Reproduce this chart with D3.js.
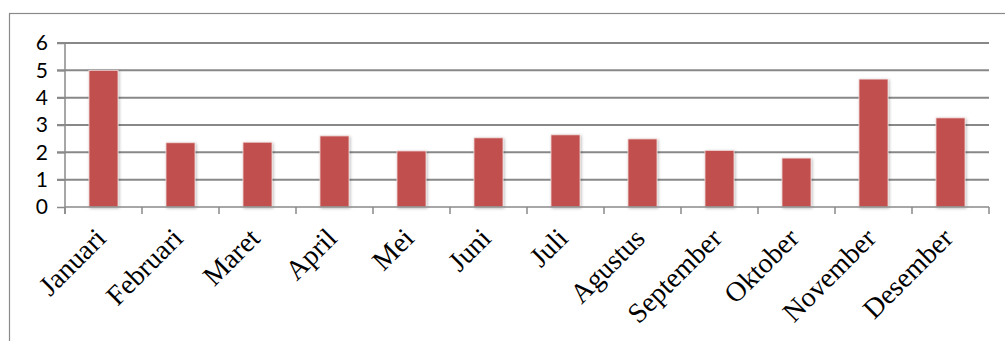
<!DOCTYPE html>
<html>
<head>
<meta charset="utf-8">
<script src="https://cdn.jsdelivr.net/npm/d3@7"></script>
<style>
  html, body { margin: 0; padding: 0; background: #fff; }
  svg { display: block; }
</style>
</head>
<body>
<svg id="chart" width="1005" height="341"></svg>
<script>
// Monthly values
const months = ["Januari", "Februari", "Maret", "April", "Mei", "Juni",
                "Juli", "Agustus", "September", "Oktober", "November", "Desember"];
const values = [5.0, 2.35, 2.37, 2.6, 2.05, 2.53, 2.64, 2.49, 2.07, 1.79, 4.68, 3.26];
const yTicks = [0, 1, 2, 3, 4, 5, 6];

const svg = d3.select("#chart");
const margin = { left: 65, right: 16, top: 43, bottom: 134 };
const W = 1005, H = 341;

// Outer chart frame (right and bottom edges run off the page)
svg.append("rect")
  .attr("x", 9.5).attr("y", 13.5)
  .attr("width", 1010).attr("height", 400)
  .attr("fill", "none").attr("stroke", "#8a8a8a").attr("stroke-width", 1.2);

const x = d3.scaleBand()
  .domain(months)
  .range([margin.left, W - margin.right])
  .paddingInner(0.623)
  .paddingOuter(0.3115);

const y = d3.scaleLinear()
  .domain([0, 6])
  .range([H - margin.bottom, margin.top]);

// Soft shadow under the bars
const defs = svg.append("defs");
const f = defs.append("filter").attr("id", "barShadow")
  .attr("x", "-30%").attr("y", "-10%").attr("width", "160%").attr("height", "120%");
f.append("feDropShadow")
  .attr("dx", 1).attr("dy", 1).attr("stdDeviation", 1.8)
  .attr("flood-color", "#000").attr("flood-opacity", 0.28);

// Horizontal gridlines
svg.append("g")
  .selectAll("line")
  .data(yTicks.filter(d => d > 0))
  .join("line")
  .attr("x1", margin.left - 8).attr("x2", W - margin.right)
  .attr("y1", d => y(d)).attr("y2", d => y(d))
  .attr("stroke", "#888").attr("stroke-width", 2);

// Y axis
const yAxis = svg.append("g")
  .attr("transform", `translate(${margin.left},0)`)
  .call(d3.axisLeft(y).tickValues(yTicks).tickSize(8).tickPadding(9).tickFormat(d3.format("d")));
yAxis.select(".domain")
  .attr("d", `M0,${y(6)}V${y(0) + 7}`)
  .attr("stroke", "#8a8a8a").attr("stroke-width", 1.5);
yAxis.selectAll(".tick line").attr("stroke", "#8a8a8a").attr("stroke-width", 1.5);
yAxis.selectAll(".tick text")
  .attr("fill", "#000")
  .style("font-family", "Lato, 'Open Sans', sans-serif")
  .style("font-size", "21px");

// Bars
svg.append("g")
  .selectAll("rect")
  .data(values)
  .join("rect")
  .attr("x", (d, i) => x(months[i]))
  .attr("y", d => y(d))
  .attr("width", x.bandwidth())
  .attr("height", d => y(0) - y(d))
  .attr("fill", "#c0504d")
  .attr("stroke", "#f3dcdb").attr("stroke-width", 0.8)
  .attr("filter", "url(#barShadow)");

// X axis with ticks between the categories
const boundaries = d3.range(months.length + 1).map(i => margin.left + i * x.step());
const xg = svg.append("g");
xg.append("line")
  .attr("x1", margin.left).attr("x2", W - margin.right)
  .attr("y1", y(0)).attr("y2", y(0))
  .attr("stroke", "#8a8a8a").attr("stroke-width", 1.5);
xg.selectAll("line.tk")
  .data(boundaries)
  .join("line").attr("class", "tk")
  .attr("x1", d => d).attr("x2", d => d)
  .attr("y1", y(0)).attr("y2", y(0) + 7)
  .attr("stroke", "#8a8a8a").attr("stroke-width", 1.5);

// Rotated month labels
xg.selectAll("text")
  .data(months)
  .join("text")
  .attr("transform", d => `translate(${x(d) + x.bandwidth() / 2 + 4},${y(0) + 33}) rotate(-45)`)
  .attr("text-anchor", "end")
  .attr("fill", "#000")
  .style("font-family", "'Liberation Serif', 'Times New Roman', serif")
  .style("font-size", "28px")
  .text(d => d);
</script>
</body>
</html>
